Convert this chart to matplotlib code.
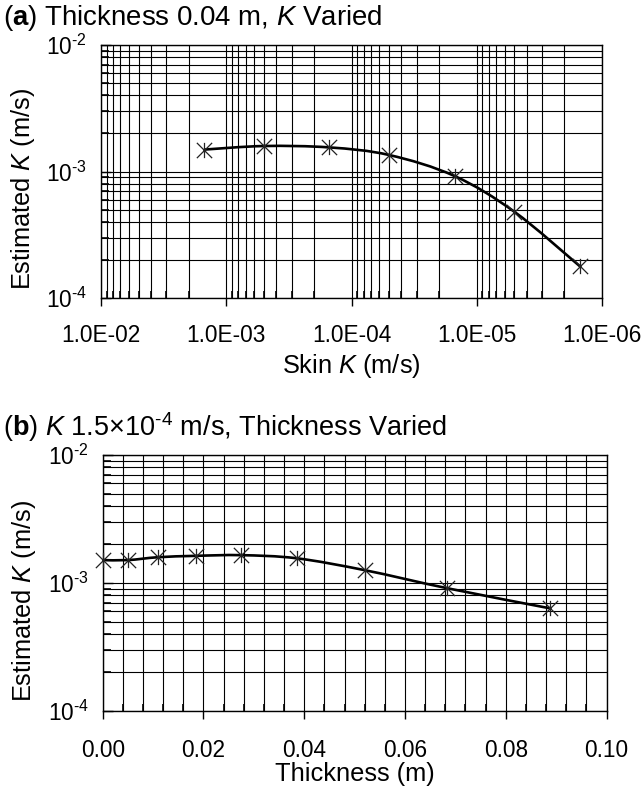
import numpy as np
import matplotlib
matplotlib.use("Agg")
import matplotlib.pyplot as plt
from matplotlib.path import Path
from matplotlib.patches import PathPatch
from matplotlib.ticker import LogLocator, FixedLocator, MultipleLocator, NullFormatter, FixedFormatter

plt.rcParams['font.family'] = ['Liberation Sans', 'DejaVu Sans']
plt.rcParams['mathtext.fontset'] = 'custom'
plt.rcParams['mathtext.rm'] = 'Liberation Sans'
plt.rcParams['mathtext.it'] = 'Liberation Sans:italic'
plt.rcParams['mathtext.bf'] = 'Liberation Sans:bold'

# ---- data ----
skin_k = [1.5e-3, 5e-4, 1.5e-4, 5e-5, 1.5e-5, 5e-6, 1.5e-6]
est_k_a = [1.49e-3, 1.59e-3, 1.55e-3, 1.35e-3, 9.2e-4, 4.8e-4, 1.78e-4]

thickness = [0.0, 0.005, 0.011, 0.0185, 0.0275, 0.0385, 0.052, 0.0684, 0.0887]
est_k_b = [1.51e-3, 1.51e-3, 1.59e-3, 1.63e-3, 1.65e-3, 1.56e-3, 1.26e-3, 9.1e-4, 6.35e-4]

xticks_a = [1e-2, 1e-3, 1e-4, 1e-5, 1e-6]
xticklabels_a = ['1.0E-02', '1.0E-03', '1.0E-04', '1.0E-05', '1.0E-06']
xticks_b = [0.0, 0.02, 0.04, 0.06, 0.08, 0.10]
xticklabels_b = ['0.00', '0.02', '0.04', '0.06', '0.08', '0.10']
yticks = [1e-4, 1e-3, 1e-2]
yticklabels = [r'$10^{\text{-}4}$', r'$10^{\text{-}3}$', r'$10^{\text{-}2}$']

FS = 16.3
LFS = 18.3
TFS_A = 19.9
TFS_B = 19.5

def smooth_path(xs, ys, logx):
    u = np.log10(xs) if logx else np.asarray(xs, float)
    v = np.log10(ys)
    P = np.column_stack([u, v])
    n = len(P)
    verts = [P[0]]
    codes = [Path.MOVETO]
    for i in range(n - 1):
        p0 = P[i - 1] if i > 0 else P[i]
        p1 = P[i]
        p2 = P[i + 1]
        p3 = P[i + 2] if i + 2 < n else P[i + 1]
        c1 = p1 + (p2 - p0) / 6.0
        c2 = p2 - (p3 - p1) / 6.0
        verts += [c1, c2, p2]
        codes += [Path.CURVE4] * 3
    verts = np.array(verts)
    if logx:
        verts[:, 0] = 10 ** verts[:, 0]
    verts[:, 1] = 10 ** verts[:, 1]
    return Path(verts, codes)

star = Path([(0, -1), (0, 1), (-1, -1), (1, 1), (-1, 1), (1, -1)],
            [Path.MOVETO, Path.LINETO, Path.MOVETO, Path.LINETO, Path.MOVETO, Path.LINETO])

fig = plt.figure(figsize=(6.44, 7.94), dpi=100)
axa = fig.add_axes([101/644, 1-298/794, 501/644, 253/794])
axb = fig.add_axes([102.7/644, 1-711/794, 503.8/644, 256/794])

def style(ax, xpad):
    ax.grid(True, which='both', color='black', linewidth=0.8)
    ax.set_axisbelow(True)
    for s in ax.spines.values():
        s.set_linewidth(1.0)
        s.set_color('black')
    ax.tick_params(axis='x', which='major', direction='out', length=5.5, width=1,
                   labelsize=FS, pad=xpad, top=False)
    ax.tick_params(axis='x', which='minor', direction='in', length=5, width=1.2, top=False)
    ax.tick_params(axis='y', which='major', direction='in', length=7, width=1,
                   labelsize=FS, pad=10, right=False)
    ax.tick_params(axis='y', which='minor', direction='in', length=6, width=1.2, right=False)
    ax.set_yscale('log')
    ax.set_ylim(1e-4, 1e-2)
    ax.yaxis.set_major_locator(FixedLocator(yticks))
    ax.yaxis.set_major_formatter(FixedFormatter(yticklabels))
    ax.yaxis.set_minor_locator(LogLocator(base=10, subs=np.arange(2, 10)))
    ax.yaxis.set_minor_formatter(NullFormatter())
    ax.set_ylabel(r'Estimated $\mathit{K}$ (m/s)', fontsize=LFS)

# panel a
style(axa, 13.5)
axa.set_xscale('log')
axa.set_xlim(1e-2, 1e-6)
axa.xaxis.set_major_locator(FixedLocator(xticks_a))
axa.xaxis.set_major_formatter(FixedFormatter(xticklabels_a))
axa.xaxis.set_minor_locator(LogLocator(base=10, subs=np.arange(2, 10)))
axa.xaxis.set_minor_formatter(NullFormatter())
axa.add_patch(PathPatch(smooth_path(skin_k, est_k_a, True), facecolor='none',
                        edgecolor='black', linewidth=1.9, zorder=3))
axa.plot(skin_k, est_k_a, linestyle='none', marker=star, markersize=11,
         markeredgewidth=0.9, markeredgecolor='#222222', zorder=4)
axa.set_xlabel(r'Skin $\mathit{K}$ (m/s)', fontsize=LFS, labelpad=3)
axa.yaxis.set_label_coords(-0.128, 0.43)
fig.text(3/644, 1-25/794, r'($\mathbf{a}$) Thickness 0.04 m, $\mathit{K}$ Varied',
         fontsize=TFS_A, ha='left', va='baseline')

# panel b
style(axb, 15)
axb.set_xlim(0, 0.10)
axb.xaxis.set_major_locator(FixedLocator(xticks_b))
axb.xaxis.set_major_formatter(FixedFormatter(xticklabels_b))
axb.xaxis.set_minor_locator(MultipleLocator(0.004))
axb.add_patch(PathPatch(smooth_path(thickness, est_k_b, False), facecolor='none',
                        edgecolor='black', linewidth=1.9, zorder=3, clip_on=False))
axb.plot(thickness, est_k_b, linestyle='none', marker=star, markersize=11,
         markeredgewidth=0.9, markeredgecolor='#222222', zorder=4, clip_on=False)
axb.set_xlabel('Thickness (m)', fontsize=LFS, labelpad=0)
axb.yaxis.set_label_coords(-0.128, 0.43)
fig.text(3/644, 1-436/794, r'($\mathbf{b}$) $\mathit{K}$ 1.5×10$^{\text{-}4}$ m/s, Thickness Varied',
         fontsize=TFS_B, ha='left', va='baseline')

fig.savefig('out.png', dpi=100)
